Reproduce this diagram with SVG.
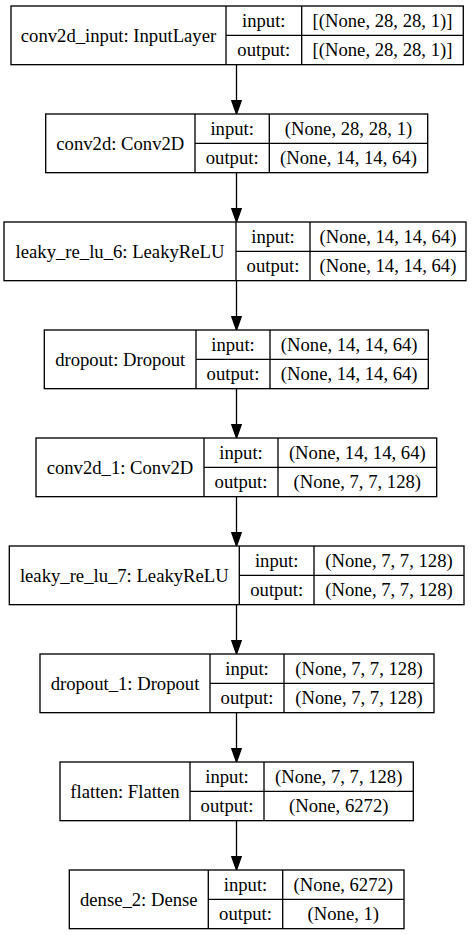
<svg xmlns="http://www.w3.org/2000/svg" width="473" height="935" viewBox="0 0 473 935">
<defs>
<style>
.bx{fill:#fff;stroke:#000;stroke-width:1.33}
.ln{stroke:#000;stroke-width:1.33;fill:none}
.ah{fill:#000;stroke:#000;stroke-width:1.33}
text{font-family:"Liberation Serif","Times New Roman",serif;font-size:18.67px;fill:#000;text-anchor:middle}
</style>
</defs>
<rect width="473" height="935" fill="#fff"/>
<g id="connectors">
<line class="ln" x1="236.5" y1="64.67" x2="236.5" y2="100.67"/><polygon class="ah" points="231.8,100.67 241.2,100.67 236.5,114"/>
<line class="ln" x1="236.5" y1="172.67" x2="236.5" y2="208.67"/><polygon class="ah" points="231.8,208.67 241.2,208.67 236.5,222"/>
<line class="ln" x1="236.5" y1="280.67" x2="236.5" y2="316.67"/><polygon class="ah" points="231.8,316.67 241.2,316.67 236.5,330"/>
<line class="ln" x1="236.5" y1="388.67" x2="236.5" y2="424.67"/><polygon class="ah" points="231.8,424.67 241.2,424.67 236.5,438"/>
<line class="ln" x1="236.5" y1="496.67" x2="236.5" y2="532.67"/><polygon class="ah" points="231.8,532.67 241.2,532.67 236.5,546"/>
<line class="ln" x1="236.5" y1="604.67" x2="236.5" y2="640.67"/><polygon class="ah" points="231.8,640.67 241.2,640.67 236.5,654"/>
<line class="ln" x1="236.5" y1="712.67" x2="236.5" y2="748.67"/><polygon class="ah" points="231.8,748.67 241.2,748.67 236.5,762"/>
<line class="ln" x1="236.5" y1="820.67" x2="236.5" y2="856.67"/><polygon class="ah" points="231.8,856.67 241.2,856.67 236.5,870"/>
</g>
<g id="n1">
<rect class="bx" x="11" y="6" width="452.3" height="58.67"/>
<line class="ln" x1="226" y1="6" x2="226" y2="64.67"/><line class="ln" x1="301.7" y1="6" x2="301.7" y2="64.67"/><line class="ln" x1="226" y1="35.33" x2="463.3" y2="35.33"/>
<text x="118.5" y="41.5">conv2d_input: InputLayer</text>
<text x="263.8" y="26.9">input:</text><text x="263.8" y="56.2">output:</text>
<text x="382.5" y="26.9">[(None, 28, 28, 1)]</text><text x="382.5" y="56.2">[(None, 28, 28, 1)]</text>
</g>
<g id="n2">
<rect class="bx" x="45.7" y="114" width="382" height="58.67"/>
<line class="ln" x1="195" y1="114" x2="195" y2="172.67"/><line class="ln" x1="269.3" y1="114" x2="269.3" y2="172.67"/><line class="ln" x1="195" y1="143.33" x2="427.7" y2="143.33"/>
<text x="120.3" y="149.5">conv2d: Conv2D</text>
<text x="232.2" y="134.9">input:</text><text x="232.2" y="164.2">output:</text>
<text x="348.5" y="134.9">(None, 28, 28, 1)</text><text x="348.5" y="164.2">(None, 14, 14, 64)</text>
</g>
<g id="n3">
<rect class="bx" x="4" y="222" width="462" height="58.67"/>
<line class="ln" x1="236" y1="222" x2="236" y2="280.67"/><line class="ln" x1="310" y1="222" x2="310" y2="280.67"/><line class="ln" x1="236" y1="251.33" x2="466" y2="251.33"/>
<text x="120" y="257.5">leaky_re_lu_6: LeakyReLU</text>
<text x="273" y="242.9">input:</text><text x="273" y="272.2">output:</text>
<text x="388" y="242.9">(None, 14, 14, 64)</text><text x="388" y="272.2">(None, 14, 14, 64)</text>
</g>
<g id="n4">
<rect class="bx" x="44.3" y="330" width="384" height="58.67"/>
<line class="ln" x1="196" y1="330" x2="196" y2="388.67"/><line class="ln" x1="270" y1="330" x2="270" y2="388.67"/><line class="ln" x1="196" y1="359.33" x2="428.3" y2="359.33"/>
<text x="120.2" y="365.5">dropout: Dropout</text>
<text x="233" y="350.9">input:</text><text x="233" y="380.2">output:</text>
<text x="349.2" y="350.9">(None, 14, 14, 64)</text><text x="349.2" y="380.2">(None, 14, 14, 64)</text>
</g>
<g id="n5">
<rect class="bx" x="36" y="438" width="400.7" height="58.67"/>
<line class="ln" x1="204" y1="438" x2="204" y2="496.67"/><line class="ln" x1="278" y1="438" x2="278" y2="496.67"/><line class="ln" x1="204" y1="467.33" x2="436.7" y2="467.33"/>
<text x="120" y="473.5">conv2d_1: Conv2D</text>
<text x="241" y="458.9">input:</text><text x="241" y="488.2">output:</text>
<text x="357.3" y="458.9">(None, 14, 14, 64)</text><text x="357.3" y="488.2">(None, 7, 7, 128)</text>
</g>
<g id="n6">
<rect class="bx" x="9.3" y="546" width="454.7" height="58.67"/>
<line class="ln" x1="239.3" y1="546" x2="239.3" y2="604.67"/><line class="ln" x1="314" y1="546" x2="314" y2="604.67"/><line class="ln" x1="239.3" y1="575.33" x2="464" y2="575.33"/>
<text x="124.3" y="581.5">leaky_re_lu_7: LeakyReLU</text>
<text x="276.7" y="566.9">input:</text><text x="276.7" y="596.2">output:</text>
<text x="389" y="566.9">(None, 7, 7, 128)</text><text x="389" y="596.2">(None, 7, 7, 128)</text>
</g>
<g id="n7">
<rect class="bx" x="40" y="654" width="394" height="58.67"/>
<line class="ln" x1="210" y1="654" x2="210" y2="712.67"/><line class="ln" x1="284" y1="654" x2="284" y2="712.67"/><line class="ln" x1="210" y1="683.33" x2="434" y2="683.33"/>
<text x="125" y="689.5">dropout_1: Dropout</text>
<text x="247" y="674.9">input:</text><text x="247" y="704.2">output:</text>
<text x="359" y="674.9">(None, 7, 7, 128)</text><text x="359" y="704.2">(None, 7, 7, 128)</text>
</g>
<g id="n8">
<rect class="bx" x="60" y="762" width="353.3" height="58.67"/>
<line class="ln" x1="190" y1="762" x2="190" y2="820.67"/><line class="ln" x1="264" y1="762" x2="264" y2="820.67"/><line class="ln" x1="190" y1="791.33" x2="413.3" y2="791.33"/>
<text x="125" y="797.5">flatten: Flatten</text>
<text x="227" y="782.9">input:</text><text x="227" y="812.2">output:</text>
<text x="338.7" y="782.9">(None, 7, 7, 128)</text><text x="338.7" y="812.2">(None, 6272)</text>
</g>
<g id="n9">
<rect class="bx" x="69.3" y="870" width="334.7" height="58.67"/>
<line class="ln" x1="208.3" y1="870" x2="208.3" y2="928.67"/><line class="ln" x1="282.7" y1="870" x2="282.7" y2="928.67"/><line class="ln" x1="208.3" y1="899.33" x2="404" y2="899.33"/>
<text x="138.8" y="905.5">dense_2: Dense</text>
<text x="245.5" y="890.9">input:</text><text x="245.5" y="920.2">output:</text>
<text x="343.3" y="890.9">(None, 6272)</text><text x="343.3" y="920.2">(None, 1)</text>
</g>
</svg>
